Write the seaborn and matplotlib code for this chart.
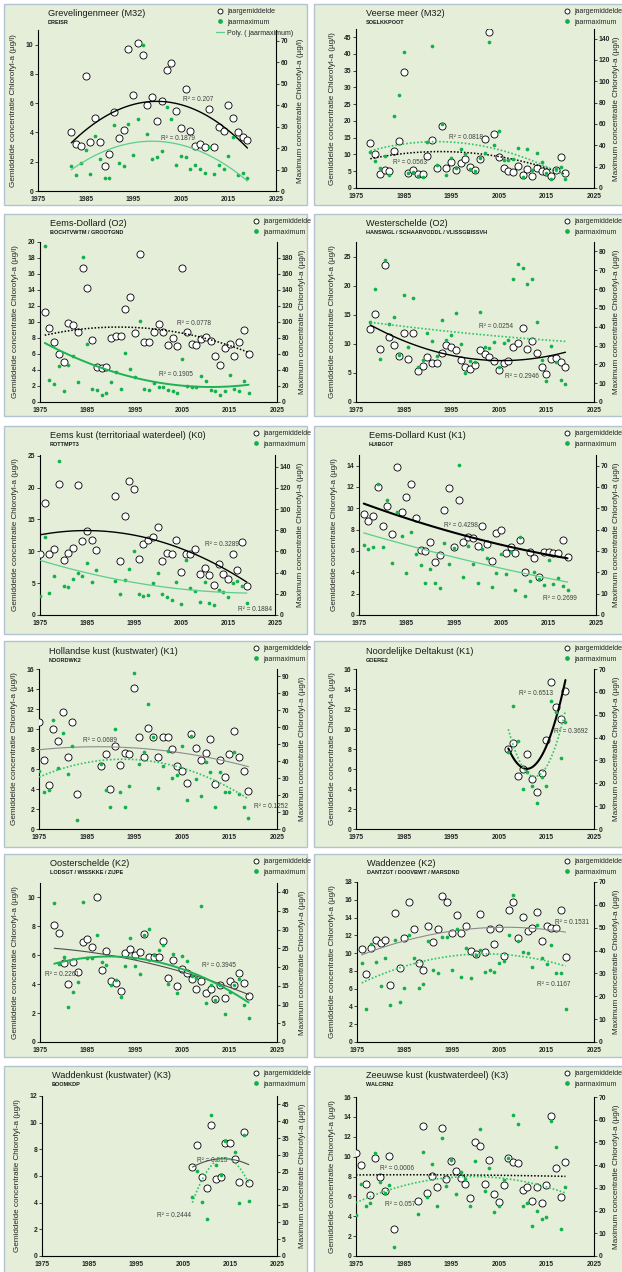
import numpy as np
import matplotlib
matplotlib.use("Agg")
import matplotlib.pyplot as plt
from matplotlib.patches import Rectangle
from matplotlib.lines import Line2D
import seaborn as sns

# ── Data ──────────────────────────────────────────────────────────────────────

GREV_YEARS = list(range(1982, 2020))
GREV_MEAN = [4.03, 3.2, 3.1, 7.85, 3.36, 5.0, 3.36, 1.72, 2.5, 5.4,
             3.6, 4.2, 9.7, 6.55, 10.1, 9.3, 5.9, 6.4, 4.8, 6.15,
             8.25, 8.75, 5.5, 4.3, 6.95, 4.1, 3.05, 3.2, 3.0, 5.6,
             3.0, 4.35, 4.1, 5.9, 5.0, 4.0, 3.7, 3.5]
GREV_MAX = [11.8, 7.6, 13.2, 19.3, 8.1, 25.7, 15.0, 6.1, 6.1, 30.8,
            13.1, 11.5, 31.3, 16.8, 33.6, 68.2, 26.5, 14.8, 16.0, 18.7,
            39.1, 33.5, 12.0, 16.4, 15.7, 10.1, 12.1, 10.1, 8.4, 20.6,
            7.9, 12.3, 10.1, 16.5, 25.2, 7.3, 8.6, 5.9]

VEER_YEARS = list(range(1978, 2020))
VEER_MEAN = [13.4, 10.2, 4.27, 5.3, 5.1, 11.0, 14.0, 34.7, 4.5, 5.5,
             4.2, 4.3, 9.6, 14.4, 6.1, 18.6, 5.9, 7.7, 5.5, 7.6,
             8.7, 6.3, 5.4, 8.6, 14.5, 46.4, 16.0, 9.1, 6.0, 5.2,
             4.9, 6.7, 3.8, 5.6, 3.7, 6.0, 5.2, 4.7, 3.6, 5.5,
             9.3, 4.4]
VEER_MAX = [33.8, 25.0, 18.8, 30.0, 11.9, 67.8, 86.9, 127.8, 14.1, 14.7,
            11.6, 10.6, 43.4, 133.1, 21.3, 60.0, 12.2, 27.8, 19.1, 36.3,
            32.2, 18.1, 15.6, 27.8, 32.8, 136.9, 40.6, 53.4, 26.6, 26.3,
            27.5, 37.8, 10.6, 36.9, 16.6, 32.5, 24.4, 14.1, 8.1, 17.8,
            19.4, 8.1]

EDOL_YEARS = list(range(1976, 2020))
EDOL_MEAN = [11.3, 9.2, 7.5, 6.0, 5.0, 9.9, 9.6, 8.8, 16.8, 14.2,
             7.8, 4.4, 4.25, 4.4, 8.0, 8.3, 8.2, 11.6, 13.1, 8.6,
             18.5, 7.5, 7.5, 8.75, 9.7, 8.7, 7.1, 8.0, 7.0, 16.8,
             8.75, 7.2, 7.1, 7.9, 8.1, 7.6, 5.7, 4.6, 6.7, 7.25,
             5.8, 7.5, 9.0, 6.0]
EDOL_MAX = [195, 27.5, 22.9, 45, 13.3, 45.8, 57.9, 25, 181.7, 72.1,
            16.7, 15, 8.3, 10.8, 25.4, 37.5, 15.8, 61.7, 40.8, 31.7,
            100.8, 16.3, 15, 23.8, 19.2, 18.3, 15.4, 14.2, 11.7, 53.8,
            19.6, 19.2, 18.8, 32.5, 25.8, 15.4, 13.3, 9.2, 14.2, 33.3,
            16.3, 13.3, 26.3, 10.8]

WEST_YEARS = list(range(1978, 2020))
WEST_MEAN = [12.6, 15.2, 9.15, 23.5, 11.2, 9.8, 7.9, 11.8, 7.4, 11.9,
             5.3, 6.2, 7.8, 6.7, 6.75, 8.35, 9.8, 9.45, 9.0, 7.2,
             6.1, 5.65, 6.4, 9.0, 8.3, 7.7, 7.1, 5.5, 6.7, 7.1,
             9.45, 10.1, 12.75, 9.15, 10.4, 8.5, 6.1, 4.85, 7.4, 7.55,
             6.85, 5.95]
WEST_MAX = [42.4, 60.1, 23.0, 75.2, 41.3, 45.4, 25.0, 56.9, 29.3, 55.0,
            18.4, 22.2, 36.9, 32.6, 24.3, 43.8, 33.0, 35.5, 47.2, 30.7,
            15.4, 21.8, 21.1, 48.0, 29.4, 28.9, 32.1, 18.4, 31.4, 32.8,
            65.1, 73.4, 71.1, 62.8, 65.4, 42.6, 22.5, 11.0, 29.6, 21.3,
            11.9, 9.75]

EEMSK_YEARS = list(range(1975, 1988)) + list(range(1991, 2020))
EEMSK_MEAN = [9.6, 17.5, 9.5, 10.3, 20.6, 8.6, 9.8, 10.5, 20.4, 11.6, 13.1, 11.8, 10.2,
              18.7, 8.4, 15.5, 21.0, 19.8, 8.8, 11.1, 11.7, 12.2, 13.8,
              8.4, 9.8, 9.6, 11.8, 6.7, 9.6, 9.6, 10.4, 6.5, 7.4,
              6.2, 4.75, 7.95, 6.5, 5.6, 9.6, 7.1, 11.4, 4.5]
EEMSK_MAX = [18.0, 73.6, 20.5, 37.0, 145.4, 26.9, 26.2, 34.4, 39.8, 37.0, 49.3, 30.7, 42.0,
             32.2, 19.9, 33.2, 43.0, 60.7, 19.6, 17.7, 19.0, 30.3, 39.2,
             20.2, 17.1, 14.2, 31.6, 10.7, 51.8, 25.3, 22.8, 12.3, 31.0,
             11.7, 9.5, 23.4, 21.5, 17.4, 30.0, 31.9, 27.5, 11.4]

EDK_YEARS = list(range(1976, 2020))
EDK_MEAN = [9.5, 8.8, 9.3, 12.0, 8.35, 10.25, 7.6, 13.9, 9.7, 11.1,
            12.3, 9.1, 6.1, 6.0, 6.8, 4.95, 5.6, 9.8, 11.9, 6.4,
            10.75, 6.8, 7.35, 7.25, 6.5, 8.3, 6.7, 5.1, 7.65, 7.95,
            5.8, 6.35, 5.8, 7.0, 4.05, 5.95, 5.3, 3.6, 5.95, 5.9,
            5.85, 5.85, 7.05, 5.4]
EDK_MAX = [32.9, 31.0, 31.9, 61.3, 32.1, 54.1, 24.6, 48.4, 37.2, 19.7,
           38.8, 28.8, 23.3, 14.9, 21.4, 14.9, 12.5, 33.6, 23.8, 31.6,
           70.1, 18.0, 32.4, 24.1, 15.2, 31.0, 26.9, 13.0, 19.7, 28.6,
           19.1, 29.7, 11.6, 36.5, 9.1, 16.0, 20.0, 16.9, 13.9, 26.0,
           14.6, 17.5, 13.8, 11.6]

HOLL_YEARS = list(range(1975, 1984)) + list(range(1988, 2020))
HOLL_MEAN = [10.7, 6.9, 4.4, 10.0, 8.8, 11.75, 7.2, 10.7, 3.5,
             6.3, 7.55, 4.0, 8.3, 6.4, 7.6, 7.5, 14.15, 9.2, 7.2,
             10.1, 9.25, 7.2, 9.2, 9.2, 8.0, 6.3, 5.8, 4.6, 9.55,
             8.15, 6.9, 7.6, 9.0, 4.55, 6.9, 5.2, 7.5, 9.8, 7.2,
             5.8, 3.85]
HOLL_MAX = [34.3, 21.7, 23.1, 64.1, 35.9, 56.8, 32.5, 48.7, 5.5,
            38.3, 23.1, 13.0, 59.2, 22.1, 13.2, 25.6, 91.7, 38.5, 45.4,
            73.8, 54.4, 24.3, 36.9, 46.0, 30.0, 32.0, 48.7, 17.0, 54.8,
            29.2, 19.7, 39.6, 33.5, 12.8, 33.5, 21.7, 21.7, 45.6, 20.5,
            12.8, 6.7]

NDELTA_YEARS = list(range(2007, 2020))
NDELTA_MEAN = [8.0, 8.6, 5.35, 6.0, 7.55, 5.05, 3.75, 5.65, 8.95, 14.7, 12.2, 11.0, 13.8]
NDELTA_MAX = [33.5, 53.6, 38.5, 17.7, 24.9, 18.7, 11.4, 22.8, 18.9, 56.1, 51.1, 30.9, 46.9]

OOST_YEARS = list(range(1978, 2020))
OOST_MEAN = [8.1, 7.55, 5.45, 4.0, 5.55, 4.85, 6.9, 7.1, 6.55, 10.05,
             5.0, 6.3, 4.25, 4.1, 3.5, 6.15, 6.45, 6.0, 6.25, 7.5,
             5.85, 5.85, 5.9, 7.0, 4.45, 5.65, 3.85, 5.05, 4.75, 4.35,
             3.7, 4.25, 3.4, 3.7, 3.0, 3.95, 3.05, 4.25, 3.95, 4.75,
             4.1, 3.15]
OOST_MAX = [37.0, 20.7, 22.6, 9.3, 13.3, 16.0, 37.4, 22.5, 22.3, 28.5,
            21.3, 20.5, 15.1, 16.5, 12.1, 20.4, 27.7, 20.4, 18.2, 28.6,
            30.1, 23.2, 24.6, 25.8, 15.4, 23.5, 13.2, 23.0, 21.5, 17.6,
            17.1, 36.4, 10.4, 15.3, 11.3, 15.3, 7.5, 13.3, 15.2, 16.8,
            9.8, 6.4]

WADZ_YEARS = list(range(1976, 2020))
WADZ_MEAN = [10.45, 7.7, 10.6, 11.5, 11.15, 11.5, 6.45, 14.55, 8.35, 11.7,
             15.8, 12.7, 8.9, 8.15, 13.0, 11.2, 12.7, 16.4, 15.8, 12.3,
             14.3, 12.3, 13.05, 10.25, 9.95, 14.35, 10.1, 12.75, 11.0, 12.85,
             9.65, 14.9, 15.75, 11.65, 14.05, 12.5, 12.85, 14.6, 11.4, 13.05,
             12.85, 12.85, 14.85, 9.6]
WADZ_MAX = [34.5, 14.3, 43.0, 35.0, 24.3, 36.7, 16.2, 44.5, 17.5, 23.5,
            46.8, 36.9, 23.6, 25.4, 44.3, 31.3, 30.2, 46.1, 46.1, 31.3,
            49.3, 28.6, 41.1, 28.0, 38.2, 40.4, 30.8, 31.5, 30.5, 34.7,
            35.6, 46.8, 64.4, 44.2, 39.2, 38.9, 32.9, 51.2, 36.9, 34.1,
            42.3, 30.3, 30.2, 14.4]

WADK_YEARS = list(range(2007, 2020))
WADK_MEAN = [6.7, 8.3, 5.9, 5.1, 9.8, 5.8, 5.9, 8.5, 8.5, 7.3, 5.55, 9.3, 5.45]
WADK_MAX_YEARS = list(range(2007, 2015)) + list(range(2016, 2020))
WADK_MAX = [17.4, 25.2, 16.0, 11.0, 41.9, 26.9, 23.9, 34.1, 31.0, 15.6, 35.9, 16.3]

ZEEUW_YEARS = list(range(1975, 1984)) + list(range(1988, 2020))
ZEEUW_MEAN = [10.4, 9.2, 7.2, 6.15, 9.85, 8.0, 6.55, 10.1, 2.7,
              5.55, 13.1, 6.3, 8.1, 6.95, 12.9, 7.75, 9.6, 8.55, 7.8,
              7.25, 5.8, 11.45, 11.05, 7.25, 9.7, 6.2, 5.4, 7.1, 9.85,
              9.5, 9.35, 6.6, 6.9, 5.5, 6.9, 5.3, 7.1, 14.05, 8.85,
              5.9, 9.45]
ZEEUW_MAX = [18.0, 31.9, 22.1, 23.3, 45.5, 32.7, 27.8, 31.2, 4.1,
             18.7, 45.7, 26.1, 40.4, 22.1, 51.8, 30.7, 42.3, 27.2, 37.0,
             34.0, 21.8, 41.7, 55.9, 28.8, 38.9, 19.3, 21.8, 33.4, 43.3,
             62.1, 58.3, 22.1, 23.3, 13.2, 19.9, 16.1, 17.1, 59.3, 48.2,
             11.7, 30.2]

# ── Styles ────────────────────────────────────────────────────────────────────

W, H = 622, 1272
PANEL_BG = "#e4eed8"
PANEL_EDGE = "#b3c4d0"
GREEN = "#13b04c"
TXT = "#262626"

BLACK_SOLID = dict(color="black", lw=1.0, ls="-")
BLACK_THICK = dict(color="black", lw=1.5, ls="-")
BLACK_DOT = dict(color="black", lw=1.1, ls=(0, (1, 1.2)))
GRAY_THIN = dict(color="#8c8c8c", lw=0.8, ls="-")
DARK_THIN = dict(color="#4d4d4d", lw=0.8, ls="-")
GREEN_THIN = dict(color="#5ccf8a", lw=0.9, ls="-")
GREEN_THICK = dict(color="#1cb452", lw=1.4, ls="-")
GREEN_DOT = dict(color="#2ec565", lw=1.2, ls=(0, (1, 1.2)))

COLS = [(4, 307), (314, 640)]
ROWS = [(4, 205), (214, 416), (426, 634), (641, 847), (854, 1057), (1066, 1290)]

PANELS = [
    dict(title="Grevelingenmeer (M32)", sub="DREISR", pos=(0, 0), axes=(38, 30, 276, 191),
         yrs=GREV_YEARS, mean=GREV_MEAN, max=GREV_MAX, yl=(0, 11), yt=(0, 10, 2), yl2=(0, 75), yt2=(0, 70, 10),
         ms=BLACK_SOLID, xs=GREEN_THIN, r2=[("R² = 0.207", 2005.4, 6.27), ("R² = 0.1879", 2000.8, 3.62)], poly=True),
    dict(title="Veerse meer (M32)", sub="SOELKKPOOT", pos=(1, 0), axes=(356, 29, 594, 188),
         yrs=VEER_YEARS, mean=VEER_MEAN, max=VEER_MAX, yl=(0, 47.4), yt=(0, 45, 5), yl2=(0, 149), yt2=(0, 140, 20),
         ms=BLACK_DOT, xs=GREEN_DOT, r2=[("R² = 0.0818", 1994.5, 15.1), ("R² = 0.0563", 1982.7, 7.75)]),
    dict(title="Eems-Dollard (O2)", sub="BOCHTVWTM / GROOTGND", pos=(0, 1), axes=(40, 242, 277, 402),
         yrs=EDOL_YEARS, mean=EDOL_MEAN, max=EDOL_MAX, yl=(0, 20), yt=(0, 20, 2), yl2=(0, 200), yt2=(0, 180, 20),
         ms=BLACK_DOT, xs=GREEN_THICK, r2=[("R² = 0.0778", 2003.8, 9.83), ("R² = 0.1905", 2000.1, 3.5)]),
    dict(title="Westerschelde (O2)", sub="HANSWGL / SCHAARVODDL / VLISSGBISSVH", pos=(1, 1), axes=(356, 242, 594, 402),
         yrs=WEST_YEARS, mean=WEST_MEAN, max=WEST_MAX, yl=(0, 27.5), yt=(0, 25, 5), yl2=(0, 85), yt2=(0, 80, 10),
         ms=BLACK_SOLID, xs=GREEN_DOT, r2=[("R² = 0.0254", 2000.9, 12.9), ("R² = 0.2946", 2006.2, 4.4)]),
    dict(title="Eems kust (territoriaal waterdeel) (K0)", sub="ROTTMPT3", pos=(0, 2), axes=(40, 455, 275, 615),
         yrs=EEMSK_YEARS, mean=EEMSK_MEAN, max=EEMSK_MAX, yl=(0, 25.1), yt=(0, 25, 5), yl2=(0, 151), yt2=(0, 140, 20),
         ms=BLACK_SOLID, xs=GREEN_THIN, r2=[("R² = 0.3289", 2010.1, 11.1), ("R² = 0.1884", 2017.2, 0.9)]),
    dict(title="Eems-Dollard Kust (K1)", sub="HUIBGOT", pos=(1, 2), axes=(359, 455, 596, 615),
         yrs=EDK_YEARS, mean=EDK_MEAN, max=EDK_MAX, yl=(0, 15), yt=(0, 14, 2), yl2=(0, 75), yt2=(0, 70, 10),
         ms=BLACK_THICK, xs=GREEN_THIN, r2=[("R² = 0.4298", 1993.0, 8.37), ("R² = 0.2699", 2013.9, 1.5)]),
    dict(title="Hollandse kust (kustwater) (K1)", sub="NOORDWK2", pos=(0, 3), axes=(39, 669, 277, 829),
         yrs=HOLL_YEARS, mean=HOLL_MEAN, max=HOLL_MAX, yl=(0, 16), yt=(0, 16, 2), yl2=(0, 94.3), yt2=(0, 90, 10),
         ms=GRAY_THIN, xs=GREEN_DOT, r2=[("R² = 0.0689", 1984.3, 8.86), ("R² = 0.1252", 2020.1, 2.27)]),
    dict(title="Noordelijke Deltakust (K1)", sub="GOERE2", pos=(1, 3), axes=(356, 669, 594, 829),
         yrs=NDELTA_YEARS, mean=NDELTA_MEAN, max=NDELTA_MAX, yl=(0, 16), yt=(0, 16, 2), yl2=(0, 70), yt2=(0, 70, 10),
         ms=BLACK_THICK, xs=GREEN_DOT, r2=[("R² = 0.6513", 2009.2, 13.6), ("R² = 0.3692", 2016.6, 9.8)]),
    dict(title="Oosterschelde (K2)", sub="LODSGT / WISSKKE / ZIJPE", pos=(0, 4), axes=(40, 883, 277, 1042),
         yrs=OOST_YEARS, mean=OOST_MEAN, max=OOST_MAX, yl=(0, 11), yt=(0, 10, 2), yl2=(0, 42.4), yt2=(0, 40, 5),
         ms=DARK_THIN, xs=GREEN_THICK, r2=[("R² = 0.2261", 1976.1, 4.65), ("R² = 0.3945", 2009.2, 5.29)]),
    dict(title="Waddenzee (K2)", sub="DANTZGT / DOOVBWT / MARSDND", pos=(1, 4), axes=(357, 882, 594, 1042),
         yrs=WADZ_YEARS, mean=WADZ_MEAN, max=WADZ_MAX, yl=(0, 18), yt=(0, 18, 2), yl2=(0, 70), yt2=(0, 70, 10),
         ms=GRAY_THIN, xs=GREEN_DOT, r2=[("R² = 0.1531", 2016.8, 13.4), ("R² = 0.1167", 2013.0, 6.5)]),
    dict(title="Waddenkust (kustwater) (K3)", sub="BOOMKDP", pos=(0, 5), axes=(42, 1096, 277, 1256),
         yrs=WADK_YEARS, mean=WADK_MEAN, max=WADK_MAX, max_yrs=WADK_MAX_YEARS,
         yl=(0, 12), yt=(0, 12, 2), yl2=(0, 47.5), yt2=(0, 45, 5),
         ms=DARK_THIN, xs=GREEN_DOT, r2=[("R² = 0.015", 2008.0, 7.2), ("R² = 0.2444", 1999.5, 3.05)]),
    dict(title="Zeeuwse kust (kustwaterdeel) (K3)", sub="WALCRN2", pos=(1, 5), axes=(356, 1097, 594, 1256),
         yrs=ZEEUW_YEARS, mean=ZEEUW_MEAN, max=ZEEUW_MAX, yl=(0, 16), yt=(0, 16, 2), yl2=(0, 70), yt2=(0, 70, 10),
         ms=BLACK_DOT, xs=GREEN_DOT, r2=[("R² = 0.0006", 1980.1, 8.76), ("R² = 0.057", 1981.0, 5.2)]),
]


def fx(x):
    return x / W


def fy(y):
    return 1 - y / H


def style_ticks(ax, ticks):
    vals = np.arange(ticks[0], ticks[1] + 0.001, ticks[2])
    ax.set_yticks(vals)
    ax.set_yticklabels([f"{v:g}" for v in vals], fontweight="bold", fontsize=4.9, color=TXT)
    ax.tick_params(axis="y", length=2, width=0.6, pad=1.5, direction="out")


def draw_panel(fig, p):
    col, row = p["pos"]
    x0, x1 = COLS[col]
    y0, y1 = ROWS[row]
    fig.add_artist(Rectangle((fx(x0), fy(y1)), fx(x1 - x0), (y1 - y0) / H, transform=fig.transFigure,
                             facecolor=PANEL_BG, edgecolor=PANEL_EDGE, lw=1.0, zorder=-1))

    l, t, r, b = p["axes"]
    ax = fig.add_axes([fx(l), fy(b), fx(r - l), (b - t) / H])
    ax2 = ax.twinx()
    for a in (ax, ax2):
        a.set_facecolor("none")
        for s in a.spines.values():
            s.set_visible(False)
    ax.spines["left"].set_visible(True)
    ax.spines["bottom"].set_visible(True)
    ax2.spines["right"].set_visible(True)
    for s in (ax.spines["left"], ax.spines["bottom"], ax2.spines["right"]):
        s.set_color("black")
        s.set_linewidth(0.8)

    max_yrs = p.get("max_yrs", p["yrs"])

    # jaargemiddelde on the left axis
    sns.scatterplot(x=p["yrs"], y=p["mean"], ax=ax, marker="o", s=26, color="white",
                    edgecolor="black", linewidth=0.6, zorder=3)
    ms = p["ms"]
    sns.regplot(x=p["yrs"], y=p["mean"], order=2, ci=None, scatter=False, ax=ax, truncate=True,
                color=ms["color"], line_kws=dict(lw=ms["lw"], ls=ms["ls"], zorder=4))

    # jaarmaximum on the right axis
    sns.scatterplot(x=max_yrs, y=p["max"], ax=ax2, marker="o", s=7, color=GREEN, linewidth=0, zorder=3)
    xs = p["xs"]
    sns.regplot(x=max_yrs, y=p["max"], order=2, ci=None, scatter=False, ax=ax2, truncate=True,
                color=xs["color"], line_kws=dict(lw=xs["lw"], ls=xs["ls"], zorder=4))

    ax.set_xlim(1975, 2025)
    ax.set_xticks(np.arange(1975, 2026, 10))
    ax.set_xticklabels([str(v) for v in range(1975, 2026, 10)], fontweight="bold", fontsize=4.9, color=TXT)
    ax.tick_params(axis="x", length=2, width=0.6, pad=1.5, direction="out")
    ax.set_ylim(*p["yl"])
    ax2.set_ylim(*p["yl2"])
    style_ticks(ax, p["yt"])
    style_ticks(ax2, p["yt2"])
    ax.set_xlabel("")
    ax.set_ylabel("")
    ax2.set_ylabel("")

    for txt, xv, yv in p["r2"]:
        ax.text(xv, yv, txt, fontsize=4.7, color="#404040", ha="left", va="center", zorder=6)

    # titles
    fig.text(fx(l + 10), fy(y0 + 10), p["title"], fontsize=6.6, color="#1a1a1a", ha="left", va="center")
    fig.text(fx(l + 10), fy(y0 + 19), p["sub"], fontsize=4.0, fontweight="bold", color="#1a1a1a",
             ha="left", va="center")

    # axis labels
    yc = fy((t + b) / 2)
    fig.text(fx(l - 24), yc, "Gemiddelde concentratie Chlorofyl-a (µg/l)", rotation=90,
             fontsize=5.9, color=TXT, ha="center", va="center")
    right_x = r + 25 if col == 0 else min(r + 23, 616)
    fig.text(fx(right_x), yc, "Maximum concentratie Chlorofyl-a (µg/l)", rotation=90,
             fontsize=5.9, color=TXT, ha="center", va="center")

    # legend
    handles = [Line2D([], [], ls="", marker="o", ms=3.6, mfc="white", mec="black", mew=0.6),
               Line2D([], [], ls="", marker="o", ms=2.4, mfc=GREEN, mec=GREEN)]
    labels = ["jaargemiddelde", "jaarmaximum"]
    if p.get("poly"):
        handles.append(Line2D([], [], color=GREEN_THIN["color"], lw=0.9))
        labels.append("Poly. ( jaarmaximum)")
        lx = 216
    else:
        lx = 252 if col == 0 else 563
    ax2.legend(handles, labels, loc="upper left", bbox_to_anchor=(fx(lx), fy(y0 + 4)),
               bbox_transform=fig.transFigure, frameon=False, fontsize=5.0, handlelength=1.2,
               handletextpad=0.4, labelspacing=0.55, borderpad=0, borderaxespad=0)


sns.set_style("white")
plt.rcParams["font.family"] = ["Liberation Sans", "DejaVu Sans"]

fig = plt.figure(figsize=(W / 100, H / 100), dpi=100)
fig.patch.set_facecolor("white")
for p in PANELS:
    draw_panel(fig, p)

fig.savefig("out.png", dpi=100)
